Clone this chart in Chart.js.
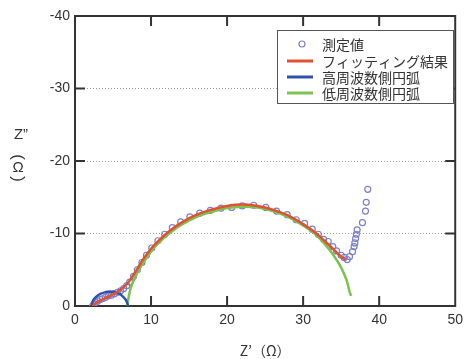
<!DOCTYPE html>
<html>
<head>
<meta charset="utf-8">
<script src="https://cdn.jsdelivr.net/npm/chart.js@4"></script>
<style>
  html, body { margin: 0; padding: 0; background: #fff; }
  #wrap { width: 469px; height: 359px; }
</style>
</head>
<body>
<div id="wrap"><canvas id="myChart" width="469" height="359"></canvas></div>
<script>
// Nyquist plot data (Z' , Z'')
const measX = [2.3, 2.5, 2.7, 3.0, 3.3, 3.6, 4.0, 4.4, 4.8, 5.2, 5.6, 6.0, 6.4, 6.8, 7.2, 7.7, 8.2, 8.8, 9.4, 10.1,
  10.9, 11.8, 12.8, 13.9, 15.1, 16.4, 17.8, 19.2, 20.6, 22.0, 23.5, 25.1, 26.5, 27.9, 29.1, 30.2, 31.2, 32.0, 32.7, 33.3,
  33.9, 34.4, 35.0, 35.4, 35.8, 36.1, 36.5, 36.7, 36.8, 36.9, 37.0, 37.1, 37.8, 38.2, 38.3, 38.5];
const measY = [0, -0.3, -0.5, -0.7, -0.9, -1.0, -1.2, -1.4, -1.5, -1.7, -1.9, -2.1, -2.4, -2.8, -3.3, -4.1, -5.0, -6.0, -7.0, -8.0,
  -9.0, -9.9, -10.8, -11.6, -12.3, -12.8, -13.2, -13.5, -13.6, -13.8, -13.9, -13.6, -13.1, -12.6, -11.9, -11.4, -10.6, -9.9, -9.2, -8.9,
  -8.2, -7.6, -7.0, -6.7, -6.4, -6.8, -7.5, -8.2, -8.7, -9.3, -9.9, -10.5, -11.5, -13.1, -14.3, -16.1];

const fitX = [2.3, 3.0, 4.0, 5.0, 5.8, 6.5, 7.2, 8.0, 9.0, 10.0, 11.0, 12.5, 14.0, 16.0, 18.0, 20.0, 22.0, 24.0, 26.0, 28.0,
  30.0, 31.5, 32.8, 34.0, 35.0, 35.6];
const fitY = [0, -0.6, -1.1, -1.6, -2.1, -2.7, -3.5, -4.8, -6.5, -7.9, -9.0, -10.4, -11.5, -12.6, -13.3, -13.8, -14.0, -13.8, -13.3, -12.5,
  -11.3, -10.2, -9.0, -7.8, -6.8, -6.4];

const highX = [2.2, 2.4, 2.8, 3.4, 4.0, 4.6, 5.2, 5.8, 6.3, 6.7, 7.0];
const highY = [0, -0.8, -1.3, -1.7, -1.9, -2.0, -1.9, -1.7, -1.3, -0.8, 0];

const lowX = [6.9, 7.1, 7.5, 8.2, 9.0, 10.0, 11.0, 12.5, 14.0, 16.0, 18.0, 20.0, 22.0, 24.0, 26.0, 28.0, 30.0, 31.5, 32.8, 34.0,
  35.0, 35.7, 36.1, 36.3];
const lowY = [0, -1.5, -3.0, -4.6, -6.0, -7.5, -8.7, -10.1, -11.2, -12.3, -13.0, -13.5, -13.7, -13.6, -13.1, -12.3, -11.1, -10.0, -8.6, -7.0,
  -5.3, -3.6, -2.0, -1.4];

const xTicks = [0, 10, 20, 30, 40, 50];
const yTicks = [-40, -30, -20, -10, 0];
const seriesNames = ["測定値", "フィッティング結果", "高周波数側円弧", "低周波数側円弧"];

const pts = (xs, ys) => xs.map((x, i) => ({ x: x, y: ys[i] }));

const FONT = "'Liberation Sans', 'Noto Sans CJK JP', sans-serif";
const CJK = "'Noto Sans CJK JP', sans-serif";
const INK = "#333";

//legend, frame, inward ticks and y title
const decor = {
  id: "decor",
  beforeDatasetsDraw(chart) {
    const { ctx, chartArea: a, scales } = chart;
    ctx.save();
    ctx.strokeStyle = INK;
    ctx.lineWidth = 2;
    xTicks.slice(1, -1).forEach((v) => {
      const px = scales.x.getPixelForValue(v);
      ctx.beginPath();
      ctx.moveTo(px, a.bottom); ctx.lineTo(px, a.bottom - 10);
      ctx.moveTo(px, a.top); ctx.lineTo(px, a.top + 10);
      ctx.stroke();
    });
    yTicks.slice(1, -1).forEach((v) => {
      const py = scales.y.getPixelForValue(v);
      ctx.beginPath();
      ctx.moveTo(a.left, py); ctx.lineTo(a.left + 10, py);
      ctx.moveTo(a.right, py); ctx.lineTo(a.right - 10, py);
      ctx.stroke();
    });
    ctx.strokeRect(a.left, a.top, a.right - a.left, a.bottom - a.top);
    ctx.restore();
  },
  afterDraw(chart) {
    const { ctx, data } = chart;
    ctx.save();
    // y axis title, vertical
    ctx.fillStyle = INK;
    ctx.textAlign = "center";
    ctx.textBaseline = "middle";
    ctx.font = "15px " + FONT;
    ctx.fillText("Z”", 21, 135);
    ctx.fillText("Ω", 18, 168);
    ctx.font = "17px " + FONT;
    [["(", 157], [")", 179]].forEach(([ch, y]) => {
      ctx.save();
      ctx.translate(18, y);
      ctx.rotate(Math.PI / 2);
      ctx.fillText(ch, 0, 0);
      ctx.restore();
    });

    // legend
    const bx = 277, by = 30, bw = 176, bh = 73;
    ctx.fillStyle = "#fff";
    ctx.fillRect(bx, by, bw, bh);
    ctx.strokeStyle = "#555";
    ctx.lineWidth = 1;
    ctx.strokeRect(bx + 0.5, by + 0.5, bw, bh);
    const rows = [44, 61, 77, 93];
    ctx.textAlign = "left";
    ctx.font = "14px " + CJK;
    data.datasets.forEach((ds, i) => {
      const y = rows[i];
      if (i === 0) {
        ctx.strokeStyle = ds.borderColor;
        ctx.lineWidth = 1.2;
        ctx.beginPath();
        ctx.arc(302, y, 3, 0, Math.PI * 2);
        ctx.stroke();
      } else {
        ctx.strokeStyle = ds.borderColor;
        ctx.lineWidth = 3;
        ctx.beginPath();
        ctx.moveTo(287, y); ctx.lineTo(313, y);
        ctx.stroke();
      }
      ctx.fillStyle = INK;
      ctx.fillText(ds.label, 322, y + 1);
    });
    ctx.restore();
  },
};

new Chart("myChart", {
  type: "scatter",
  data: {
    datasets: [
      {
        label: seriesNames[0],
        data: pts(measX, measY),
        showLine: false,
        order: 5,
        pointStyle: "circle",
        pointRadius: 3,
        borderWidth: 1.2,
        borderColor: "#7a80cc",
        backgroundColor: "rgba(0,0,0,0)",
      },
      {
        label: seriesNames[1],
        data: pts(fitX, fitY),
        showLine: true,
        order: 1,
        pointRadius: 0,
        borderWidth: 2.5,
        borderColor: "#e2502e",
        tension: 0.4,
      },
      {
        label: seriesNames[2],
        data: pts(highX, highY),
        showLine: true,
        order: 2,
        pointRadius: 0,
        borderWidth: 2.5,
        borderColor: "#2f52a8",
        tension: 0.4,
      },
      {
        label: seriesNames[3],
        data: pts(lowX, lowY),
        showLine: true,
        order: 3,
        pointRadius: 0,
        borderWidth: 2.5,
        borderColor: "#7cc24e",
        tension: 0.4,
      },
    ],
  },
  options: {
    responsive: false,
    animation: false,
    events: [],
    layout: { padding: { top: 16, right: 9, left: 0, bottom: 0 } },
    plugins: {
      legend: { display: false },
      tooltip: { enabled: false },
    },
    scales: {
      x: {
        type: "linear",
        min: 0,
        max: 50,
        afterBuildTicks: (s) => { s.ticks = xTicks.map((v) => ({ value: v })); },
        afterFit: (s) => { s.height = 53; },
        grid: { display: false, drawTicks: false },
        border: { display: false },
        ticks: { color: INK, font: { family: FONT, size: 14 }, padding: 6, maxRotation: 0 },
        title: {
          display: true,
          text: "Z’（Ω）",
          color: INK,
          font: { family: CJK, size: 14 },
          padding: { top: 0, bottom: 0 },
        },
      },
      y: {
        type: "linear",
        min: -40,
        max: 0,
        reverse: true,
        afterBuildTicks: (s) => { s.ticks = yTicks.map((v) => ({ value: v })); },
        afterFit: (s) => { s.width = 75; },
        grid: {
          drawTicks: false,
          color: (c) => (c.tick && (c.tick.value === 0 || c.tick.value === -40) ? "rgba(0,0,0,0)" : "#9a9a9a"),
          lineWidth: 1,
        },
        border: { display: false, dash: [1, 2] },
        ticks: { color: INK, font: { family: FONT, size: 14 }, padding: 5 },
      },
    },
  },
  plugins: [decor],
});
</script>
</body>
</html>
